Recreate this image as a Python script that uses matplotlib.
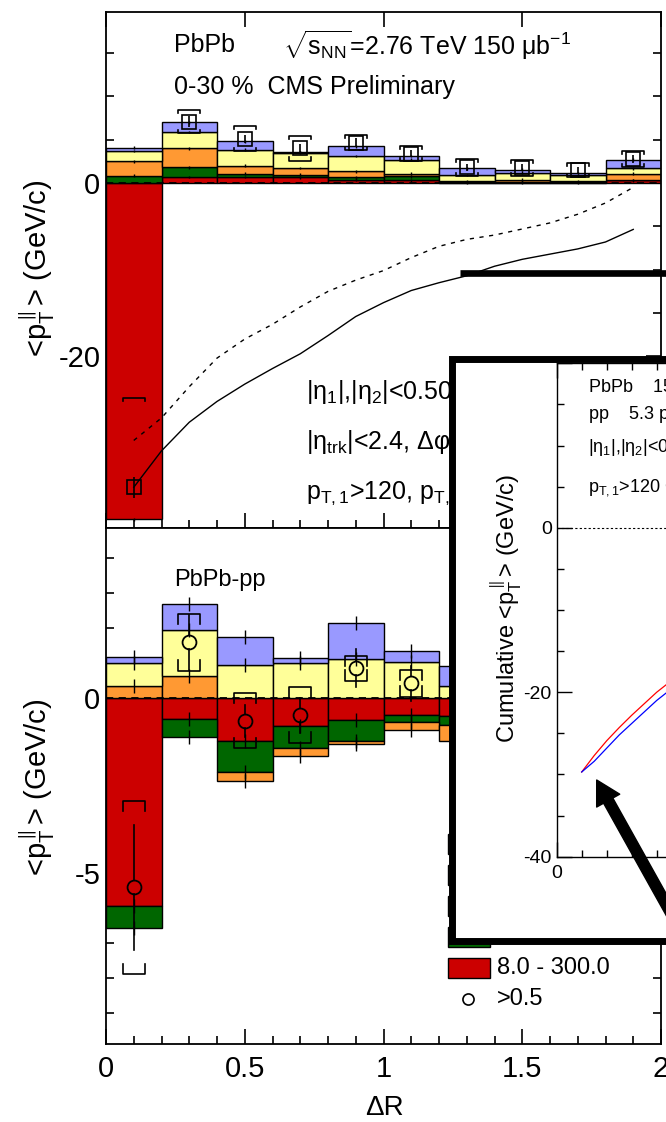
import numpy as np
import matplotlib.pyplot as plt
from matplotlib.patches import Rectangle, FancyArrowPatch
from matplotlib.lines import Line2D
from matplotlib.ticker import MultipleLocator, FuncFormatter

plt.rcParams['font.family'] = ['Liberation Sans', 'DejaVu Sans']
plt.rcParams['mathtext.fontset'] = 'custom'
plt.rcParams['mathtext.rm'] = 'Liberation Sans'
plt.rcParams['mathtext.it'] = 'Liberation Sans:italic'
plt.rcParams['mathtext.bf'] = 'Liberation Sans:bold'
plt.rcParams['axes.unicode_minus'] = False

W, H = 666, 1122

# --- data ---------------------------------------------------------------
edges = np.round(np.arange(0, 2.01, 0.2), 2)
centers = edges[:-1] + 0.1

comp_labels = ['0.5 - 1.0', '1.0 - 2.0', '2.0 - 4.0', '4.0 - 8.0', '8.0 - 300.0']
comp_colors = ['#cc0000', '#006600', '#ff9933', '#ffff99', '#9999ff']  # red, green, orange, yellow, blue

# PbPb 0-30%, per pT range (stacking order red, green, orange, yellow, blue)
pbpb_red = [-38.8, 0.7, 0.7, 0.65, 0.38, 0.3, 0.05, 0.05, 0.05, 0.3]
pbpb_green = [0.85, 1.1, 0.38, 0.32, 0.27, 0.47, 0.05, 0.1, 0.05, 0.05]
pbpb_orange = [1.65, 2.2, 0.92, 0.77, 0.7, 0.31, 0.1, 0.25, 0.1, 0.75]
pbpb_yellow = [1.2, 1.9, 1.87, 1.76, 1.75, 1.62, 0.75, 0.8, 0.7, 0.6]
pbpb_blue = [0.4, 1.1, 0.93, 0.1, 1.15, 0.4, 0.75, 0.35, 0.25, 1.0]

pbpb_y = [-35.1, 7.1, 5.1, 4.0, 4.65, 3.4, 1.8, 1.75, 1.5, 2.8]
pbpb_stat = [1.2, 0.6, 0.5, 0.5, 0.5, 0.45, 0.4, 0.4, 0.4, 0.45]
pbpb_sys = [10.3, 1.35, 1.45, 1.4, 0.85, 0.85, 0.95, 0.95, 0.85, 0.9]

# cumulative curves
cum_x = [0.1, 0.2, 0.3, 0.4, 0.5, 0.6, 0.7, 0.8, 0.9, 1.0,
         1.1, 1.2, 1.3, 1.4, 1.5, 1.6, 1.7, 1.8, 1.9]
cum_solid = [-35.1, -30.9, -27.6, -25.2, -23.2, -21.4, -19.7, -17.6, -15.4, -13.8,
             -12.4, -11.5, -10.7, -9.6, -8.8, -8.2, -7.6, -6.8, -5.35]
cum_dashed = [-29.7, -27.1, -23.5, -20.2, -18.0, -16.3, -14.3, -12.5, -11.2, -10.1,
              -8.6, -7.3, -6.5, -6.0, -5.3, -4.6, -3.6, -2.3, -0.5]

# PbPb - pp
diff_red = [-5.94, -0.61, -1.23, -0.80, -0.63, -0.49, -0.53, -0.35, -0.3, -0.25]
diff_green = [-0.64, -0.51, -0.90, -0.62, -0.60, -0.19, -0.24, -0.2, -0.15, -0.1]
diff_orange = [0.35, 0.64, -0.24, -0.23, -0.09, -0.23, -0.45, -0.15, -0.1, 0.3]
diff_yellow = [0.64, 1.30, 0.94, 0.99, 1.11, 1.02, 0.34, 0.3, 0.2, 0.4]
diff_blue = [0.19, 0.75, 0.81, 0.14, 1.04, 0.33, 0.56, 0.3, 0.2, 0.5]

diff_y = [-5.42, 1.59, -0.65, -0.49, 0.85, 0.42, 0.25, 0.2, 0.1, 0.6]
diff_stat = [1.78, 0.78, 0.46, 0.5, 0.55, 0.5, 0.45, 0.45, 0.45, 0.45]
diff_sys = [2.48, 0.81, 0.79, 0.79, 0.36, 0.39, 0.4, 0.4, 0.4, 0.45]

# inset: cumulative curves
inset_x = [0.1, 0.15, 0.2, 0.25, 0.3, 0.35, 0.4, 0.45, 0.5]
inset_red = [-29.7, -27.7, -25.9, -24.3, -22.8, -21.4, -20.0, -18.8, -17.6]
inset_blue = [-29.7, -28.4, -26.8, -25.2, -23.8, -22.4, -21.0, -19.8, -18.6]


def fx(px):
    return px / W


def fy(py):
    return 1 - py / H


def draw_stack(ax, comps, err):
    pos = np.zeros(len(centers))
    neg = np.zeros(len(centers))
    for vals, col in zip(comps, comp_colors):
        vals = np.asarray(vals, dtype=float)
        base = np.where(vals >= 0, pos, neg)
        ax.bar(edges[:-1], vals, width=0.2, bottom=base, align='edge',
               color=col, edgecolor='black', linewidth=1.0, zorder=2)
        tops = base + vals
        ax.errorbar(centers, tops, yerr=err, fmt='none', ecolor='black',
                    elinewidth=1.0, zorder=3)
        pos = np.where(vals >= 0, tops, pos)
        neg = np.where(vals < 0, tops, neg)


def brackets(ax, y, s, w, t):
    for xi, yi, si in zip(centers, y, s):
        ax.plot([xi - w, xi - w, xi + w, xi + w], [yi + si - t, yi + si, yi + si, yi + si - t],
                color='black', lw=1.2, zorder=5)
        ax.plot([xi - w, xi - w, xi + w, xi + w], [yi - si + t, yi - si, yi - si, yi - si + t],
                color='black', lw=1.2, zorder=5)


def style_axes(ax):
    for sp in ax.spines.values():
        sp.set_linewidth(1.3)
    ax.set_xlim(0, 2)
    ax.xaxis.set_major_locator(MultipleLocator(0.5))
    ax.xaxis.set_minor_locator(MultipleLocator(0.1))
    ax.tick_params(which='both', direction='in', right=True, width=1.2, labelsize=21)
    ax.tick_params(which='major', length=11)
    ax.tick_params(which='minor', length=6)
    ax.tick_params(axis='y', pad=4)
    ax.yaxis.set_major_formatter(FuncFormatter(lambda v, p: '%g' % v))
    ax.xaxis.set_major_formatter(FuncFormatter(lambda v, p: '%g' % v))


fig = plt.figure(figsize=(W / 100, H / 100), dpi=100)

# --- upper panel: PbPb ------------------------------------------------------
ax_up = fig.add_axes([fx(106), fy(528), 555 / W, (528 - 12.3) / H])
style_axes(ax_up)
ax_up.set_ylim(-39.8, 19.7)
ax_up.yaxis.set_major_locator(MultipleLocator(20))
ax_up.yaxis.set_minor_locator(MultipleLocator(5))
ax_up.tick_params(top=True, labelbottom=False)

draw_stack(ax_up, [pbpb_red, pbpb_green, pbpb_orange, pbpb_yellow, pbpb_blue], 0.15)
ax_up.axhline(0, color='black', lw=1.3, ls=(0, (4, 3)), zorder=4)
ax_up.plot(cum_x, cum_solid, color='black', lw=1.0, zorder=4)
ax_up.plot(cum_x, cum_dashed, color='black', lw=1.0, ls=(0, (3, 4)), zorder=4)
brackets(ax_up, pbpb_y, pbpb_sys, 0.04, 0.35)
ax_up.errorbar(centers, pbpb_y, yerr=pbpb_stat, fmt='s', ms=9.5, mfc='none', mec='black',
               mew=1.2, ecolor='black', elinewidth=1.2, capsize=0, zorder=6)

# --- lower panel: PbPb - pp --------------------------------------------------
ax_lo = fig.add_axes([fx(106), fy(1044), 555 / W, (1044 - 528) / H])
style_axes(ax_lo)
ax_lo.set_ylim(-9.9, 4.86)
ax_lo.yaxis.set_major_locator(MultipleLocator(5))
ax_lo.yaxis.set_minor_locator(MultipleLocator(1))
ax_lo.tick_params(axis='x', pad=8)

draw_stack(ax_lo, [diff_red, diff_green, diff_orange, diff_yellow, diff_blue], 0.2)
ax_lo.axhline(0, color='black', lw=1.3, ls=(0, (4, 3)), zorder=4)
brackets(ax_lo, diff_y, diff_sys, 0.04, 0.3)
r = 0.2
for xi, yi, ei in zip(centers, diff_y, diff_stat):
    ax_lo.plot([xi, xi], [yi + r, yi + ei], color='black', lw=1.2, zorder=6)
    ax_lo.plot([xi, xi], [yi - r, yi - ei], color='black', lw=1.2, zorder=6)
ax_lo.plot(centers, diff_y, 'o', ms=10, mfc='none', mec='black', mew=1.3, zorder=6)

# --- texts ------------------------------------------------------------------
fig.text(fx(174), fy(45), 'PbPb', fontsize=18, va='center')
fig.text(fx(283), fy(45), r'$\sqrt{\mathrm{s}_{\mathrm{NN}}}$=2.76 TeV 150 μb$^{-1}$', fontsize=18, va='center')
fig.text(fx(174), fy(87), '0-30 %  CMS Preliminary', fontsize=18, va='center')
fig.text(fx(306), fy(393), r'|η$_{1}$|,|η$_{2}$|<0.50, Δφ$_{1,2}$>5π/6', fontsize=18, va='center')
fig.text(fx(306), fy(443), r'|η$_{\mathrm{trk}}$|<2.4, Δφ$_{1,2}$>5π/6', fontsize=18, va='center')
fig.text(fx(306), fy(493), r'p$_{\mathrm{T,1}}$>120, p$_{\mathrm{T,2}}$>50 GeV/c', fontsize=18, va='center')
fig.text(fx(174), fy(580), 'PbPb-pp', fontsize=17, va='center')

ylab = r'<p$_{\mathrm{T}}^{\parallel}$> (GeV/c)'
fig.text(fx(37), fy(268), ylab, rotation=90, fontsize=21, ha='center', va='center')
fig.text(fx(37), fy(787), ylab, rotation=90, fontsize=21, ha='center', va='center')
fig.text(fx(384), fy(1108), 'ΔR', fontsize=20, ha='center', va='center')

# legend (partly hidden behind the inset)
leg_rows = [844, 875, 906, 937, 968]
for lab, col, yy in zip(comp_labels, comp_colors[::-1], leg_rows):
    fig.add_artist(Rectangle((fx(448), fy(yy + 10)), 42 / W, 20 / H, transform=fig.transFigure,
                             facecolor=col, edgecolor='black', lw=1.0, zorder=3))
    fig.text(fx(497), fy(yy), lab, fontsize=17, va='center', zorder=3)
fig.add_artist(Line2D([fx(468)], [fy(999)], marker='o', ms=8, mfc='none', mec='black',
                      mew=1.2, transform=fig.transFigure, zorder=3))
fig.text(fx(497), fy(999), '>0.5', fontsize=17, va='center', zorder=3)

# --- overlaid inset ----------------------------------------------------------
fig.add_artist(Line2D([fx(460), 1.05], [fy(273), fy(273)], color='black', lw=4.8,
                      transform=fig.transFigure, zorder=6, solid_capstyle='butt'))
fig.add_artist(Rectangle((fx(451.5), fy(941)), (1100 - 451.5) / W, (941 - 358.5) / H,
                         transform=fig.transFigure, facecolor='white', edgecolor='black',
                         lw=5, zorder=7))

ax_in = fig.add_axes([fx(556.7), fy(856.7), 500 / W, (856.7 - 363.3) / H], zorder=10)
ax_in.set_xlim(0, 2)
ax_in.set_ylim(-40, 20)
ax_in.xaxis.set_major_locator(MultipleLocator(0.5))
ax_in.xaxis.set_minor_locator(MultipleLocator(0.1))
ax_in.yaxis.set_major_locator(MultipleLocator(20))
ax_in.yaxis.set_minor_locator(MultipleLocator(5))
ax_in.yaxis.set_major_formatter(FuncFormatter(lambda v, p: '' if v > 10 else '%g' % v))
ax_in.xaxis.set_major_formatter(FuncFormatter(lambda v, p: '%g' % v))
ax_in.tick_params(which='both', direction='in', top=True, right=True, width=1.0, labelsize=14)
ax_in.tick_params(which='major', length=11)
ax_in.tick_params(which='minor', length=5)
ax_in.tick_params(axis='x', pad=6)
for sp in ax_in.spines.values():
    sp.set_linewidth(1.0)
ax_in.axhline(0, color='black', lw=0.8, ls=(0, (2, 2)))
ax_in.plot(inset_x, inset_red, color='red', lw=0.9)
ax_in.plot(inset_x, inset_blue, color='blue', lw=0.9)

fig.text(fx(507), fy(608), r'Cumulative <p$_{\mathrm{T}}^{\parallel}$> (GeV/c)', rotation=90,
         fontsize=17, ha='center', va='center', zorder=11)
fig.text(fx(588), fy(387), 'PbPb    150 μb$^{-1}$', fontsize=13, va='center', zorder=11)
fig.text(fx(588), fy(414), 'pp    5.3 pb$^{-1}$', fontsize=13, va='center', zorder=11)
fig.text(fx(588), fy(448), '|η$_{1}$|,|η$_{2}$|<0.5', fontsize=13, va='center', zorder=11)
fig.text(fx(588), fy(488), r'p$_{\mathrm{T,1}}$>120 GeV/c', fontsize=13, va='center', zorder=11)

fig.add_artist(FancyArrowPatch((fx(725), fy(1010)), (fx(596.7), fy(780)), transform=fig.transFigure,
                               arrowstyle='simple,head_width=0.95,head_length=0.85,tail_width=0.38',
                               mutation_scale=20, color='black', shrinkA=0, shrinkB=0, zorder=20))

fig.savefig('out.png', dpi=100)
